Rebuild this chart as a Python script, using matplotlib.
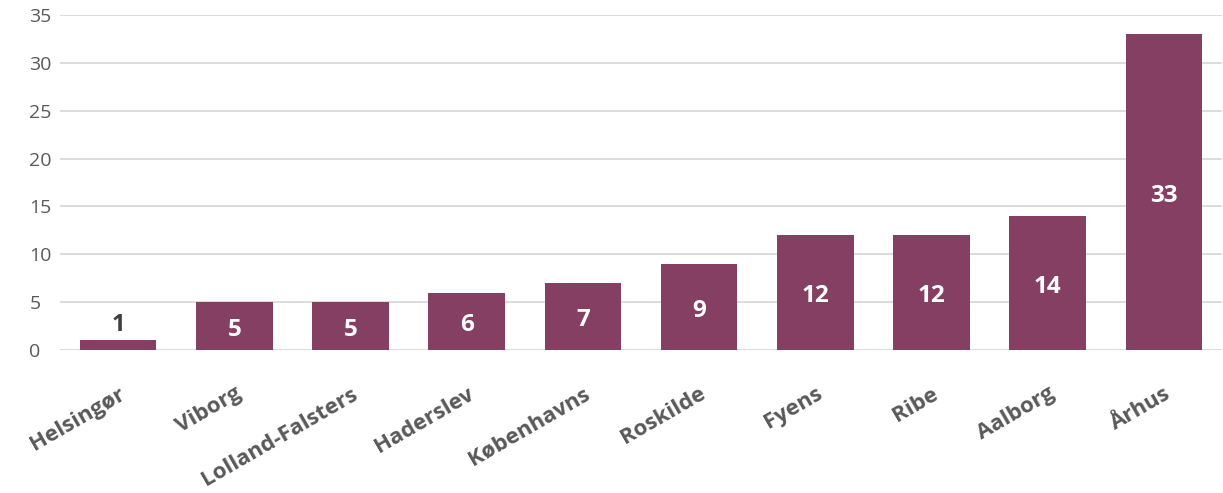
import matplotlib.pyplot as plt

plt.rcParams['font.family'] = ['Open Sans', 'DejaVu Sans']

categories = ["Helsingør", "Viborg", "Lolland-Falsters", "Haderslev", "Københavns",
              "Roskilde", "Fyens", "Ribe", "Aalborg", "Århus"]
values = [1, 5, 5, 6, 7, 9, 12, 12, 14, 33]
y_ticks = [0, 5, 10, 15, 20, 25, 30, 35]

BAR_COLOR = "#843F63"

fig = plt.figure(figsize=(12.23, 4.93), dpi=100)
ax = fig.add_axes([60 / 1223, 1 - 350 / 493, 1162 / 1223, 335 / 493])

x = range(len(categories))
ax.bar(x, values, width=0.66, color=BAR_COLOR, zorder=3)

for i, v in enumerate(values):
    if v < 3:
        ax.text(i, v + 0.4, str(v), ha='center', va='bottom', fontsize=17,
                fontweight='bold', color='#404040', zorder=4)
    else:
        ax.text(i, v / 2 - 0.4, str(v), ha='center', va='center', fontsize=17.5,
                fontweight='bold', color='white', zorder=4)

ax.set_xlim(-0.5, len(categories) - 0.5)
ax.set_ylim(0, 35)
ax.set_yticks(y_ticks)
ax.yaxis.grid(True, color='#d9d9d9', linewidth=1.3, zorder=0)
ax.set_axisbelow(True)
for s in ax.spines.values():
    s.set_visible(False)

ax.tick_params(axis='both', length=0)
ax.tick_params(axis='y', labelsize=14, labelcolor='#595959', pad=22)
ax.set_xticks(list(x))
ax.set_xticklabels(categories, rotation=30, ha='right', rotation_mode='anchor',
                   fontsize=16, fontweight='bold', color='#595959')
ax.tick_params(axis='x', pad=24)
for lbl in ax.get_yticklabels():
    lbl.set_horizontalalignment('left')

fig.savefig("out.png", dpi=100)
